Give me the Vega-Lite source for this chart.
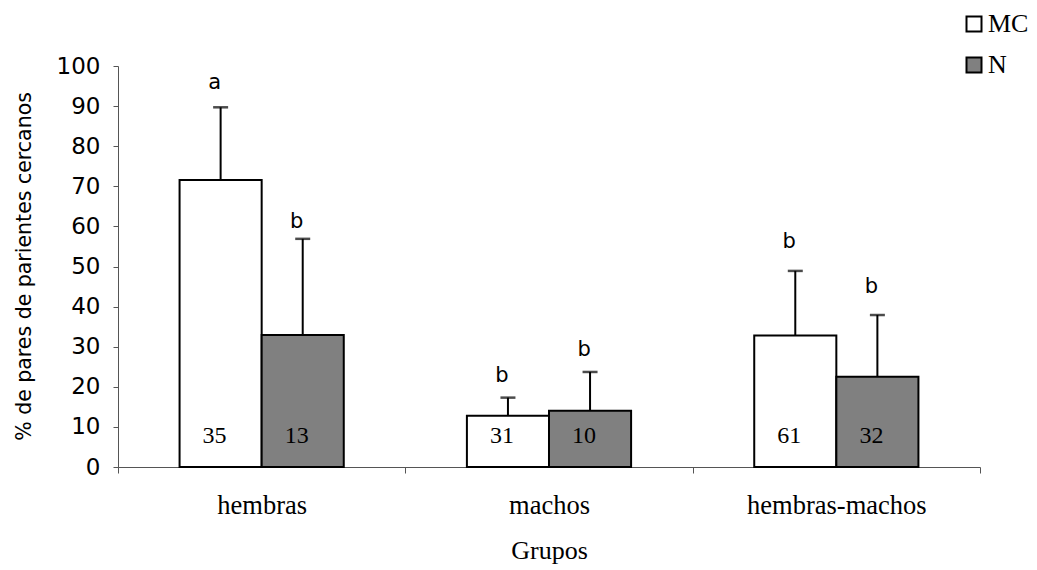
{
  "$schema": "https://vega.github.io/schema/vega-lite/v6.json",
  "autosize": "none",
  "padding": {"left": 118, "top": 66, "right": 57, "bottom": 103},
  "width": 862,
  "height": 401,
  "background": "white",
  "config": {"view": {"stroke": null}},
  "data": {"values": [
    {"grupo": "hembras", "serie": "MC", "valor": 71.6, "sup": 89.7, "n": "35", "letra": "a", "ly": 94.3},
    {"grupo": "hembras", "serie": "N", "valor": 32.9, "sup": 56.9, "n": "13", "letra": "b", "ly": 59.6},
    {"grupo": "machos", "serie": "MC", "valor": 12.8, "sup": 17.3, "n": "31", "letra": "b", "ly": 21.3},
    {"grupo": "machos", "serie": "N", "valor": 14.0, "sup": 23.7, "n": "10", "letra": "b", "ly": 27.8},
    {"grupo": "hembras-machos", "serie": "MC", "valor": 32.8, "sup": 48.9, "n": "61", "letra": "b", "ly": 54.6},
    {"grupo": "hembras-machos", "serie": "N", "valor": 22.5, "sup": 37.9, "n": "32", "letra": "b", "ly": 43.4}
  ]},
  "encoding": {
    "x": {
      "field": "grupo", "type": "nominal", "sort": ["hembras", "machos", "hembras-machos"],
      "scale": {"paddingInner": 0, "paddingOuter": 0},
      "axis": {
        "title": "Grupos", "labelAngle": 0, "tickBand": "extent",
        "labelFont": "Liberation Serif", "labelFontSize": 26.5, "labelColor": "black",
        "titleFont": "Liberation Serif", "titleFontSize": 26, "titleFontWeight": "normal", "titleColor": "black",
        "domainColor": "#555555", "tickColor": "#555555", "tickSize": 6,
        "labelPadding": 19, "titlePadding": 19
      }
    },
    "xOffset": {"field": "serie", "type": "nominal", "scale": {"domain": ["MC", "N"], "paddingInner": 0, "paddingOuter": 0.75}}
  },
  "layer": [
    {
      "mark": {"type": "rule", "stroke": "black", "strokeWidth": 2},
      "encoding": {
        "y": {"field": "valor", "type": "quantitative"},
        "y2": {"field": "sup"}
      }
    },
    {
      "mark": {"type": "tick", "color": "black", "thickness": 2.5, "size": 15},
      "encoding": {"y": {"field": "sup", "type": "quantitative"}}
    },
    {
      "mark": {"type": "bar", "stroke": "black", "strokeWidth": 2},
      "encoding": {
        "y": {
          "field": "valor", "type": "quantitative",
          "scale": {"domain": [0, 100], "nice": false},
          "axis": {
            "title": "% de pares de parientes cercanos", "values": [0,10,20,30,40,50,60,70,80,90,100],
            "grid": false, "labelFont": "DejaVu Sans", "labelFontSize": 23, "labelColor": "black",
            "titleFont": "DejaVu Sans", "titleFontSize": 20.5, "titleFontWeight": "normal", "titleColor": "black",
            "titleX": -84, "titleY": 200,
            "domainColor": "#555555", "tickColor": "#555555", "tickSize": 5, "labelPadding": 13, "titlePadding": 1
          }
        },
        "fill": {
          "field": "serie", "type": "nominal",
          "scale": {"domain": ["MC", "N"], "range": ["white", "#808080"]},
          "legend": {
            "title": null, "orient": "none", "legendX": 843, "legendY": -55,
            "symbolType": "square", "symbolSize": 225, "symbolStrokeColor": "black", "symbolStrokeWidth": 2,
            "labelFont": "Liberation Serif", "labelFontSize": 26, "labelColor": "black", "labelOffset": 1,
            "rowPadding": 15
          }
        }
      }
    },
    {
      "mark": {"type": "text", "font": "Liberation Serif", "fontSize": 24, "color": "black", "baseline": "alphabetic", "dx": -6},
      "encoding": {
        "y": {"datum": 6},
        "text": {"field": "n"}
      }
    },
    {
      "mark": {"type": "text", "font": "DejaVu Sans", "fontSize": 21, "color": "black", "baseline": "alphabetic", "dx": -6},
      "encoding": {
        "y": {"field": "ly", "type": "quantitative"},
        "text": {"field": "letra"}
      }
    }
  ]
}
